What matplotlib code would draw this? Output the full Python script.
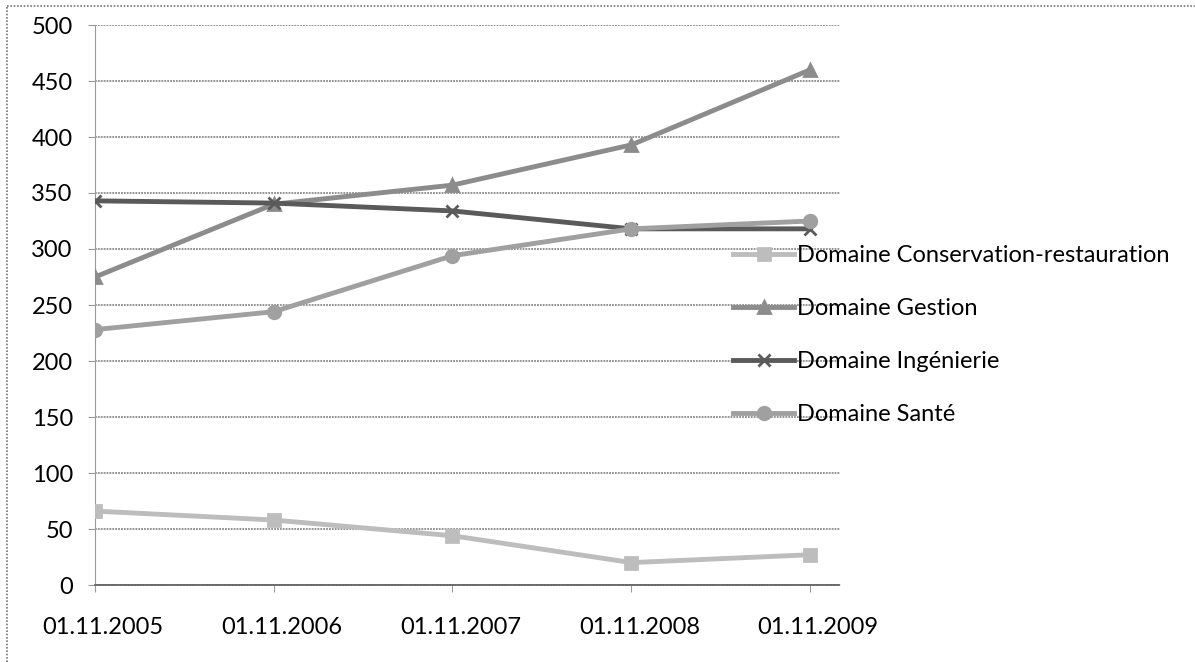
import matplotlib.pyplot as plt
import matplotlib.dates as mdates
import matplotlib.transforms as mtransforms
from matplotlib.lines import Line2D
import datetime as dt

plt.rcParams['font.family'] = ['Lato', 'DejaVu Sans']

DATES = [dt.date(2005, 11, 1), dt.date(2006, 11, 1), dt.date(2007, 11, 1),
         dt.date(2008, 11, 1), dt.date(2009, 11, 1)]

SERIES = ["Domaine Conservation-restauration", "Domaine Gestion",
          "Domaine Ingénierie", "Domaine Santé"]

conservation = [66, 58, 44, 20, 27]
gestion = [275, 340, 357, 393, 460]
ingenierie = [343, 341, 334, 318, 318]
sante = [228, 244, 294, 318, 325]

VALUES = [conservation, gestion, ingenierie, sante]
COLORS = ["#bdbdbd", "#8c8c8c", "#5a5a5a", "#a0a0a0"]
MARKERS = ["s", "^", "x", "o"]

fig = plt.figure(figsize=(11.95, 6.62), dpi=100)
ax = fig.add_axes([95 / 1195, 1 - 585 / 662, (840 - 95) / 1195, (585 - 25) / 662])

for name, vals, col, mk in zip(SERIES, VALUES, COLORS, MARKERS):
    ax.plot(DATES, vals, color=col, lw=3.5, marker=mk, markersize=9,
            markeredgewidth=2, markerfacecolor=col, markeredgecolor=col,
            label=name, zorder=3)

ax.set_ylim(0, 500)
ax.set_yticks(range(0, 501, 50))
ax.set_xlim(dt.date(2005, 11, 1), dt.date(2010, 1, 1))
ax.set_xticks(DATES)
ax.xaxis.set_major_formatter(mdates.DateFormatter('%d.%m.%Y'))

ax.grid(axis='y', color='#8a8a8a', lw=1.3, ls=(0, (1, 0.6)))
ax.set_axisbelow(True)
for s in ['top', 'right']:
    ax.spines[s].set_visible(False)
ax.spines['left'].set_color('#9a9a9a')
ax.spines['left'].set_linestyle((0, (1, 0.8)))
ax.spines['bottom'].set_color('#6a6a6a')
ax.spines['bottom'].set_linestyle((0, (1, 0.6)))
ax.spines['bottom'].set_linewidth(1.3)

ax.tick_params(axis='y', length=5, color='#9a9a9a', pad=11, labelsize=17)
ax.tick_params(axis='x', length=5, color='#9a9a9a', pad=18, labelsize=17)

# date labels sit a little right of their ticks
shift = mtransforms.ScaledTranslation(8 / 100, 0, fig.dpi_scale_trans)
for lab in ax.get_xticklabels():
    lab.set_transform(lab.get_transform() + shift)

fig.legend(loc='upper left', bbox_to_anchor=(733 / 1195, 1 - 245 / 662),
           frameon=False, fontsize=17, handlelength=2.6, handletextpad=0.1,
           labelspacing=1.36, borderpad=0, borderaxespad=0)

# dotted frame (top and left only)
fig.add_artist(Line2D([7 / 1195, 1], [1 - 6 / 662, 1 - 6 / 662], color='#777777',
                      lw=1.2, ls=(0, (1, 1)), transform=fig.transFigure))
fig.add_artist(Line2D([7 / 1195, 7 / 1195], [0, 1 - 6 / 662], color='#777777',
                      lw=1.2, ls=(0, (1, 1)), transform=fig.transFigure))

plt.savefig('out.png', dpi=100)
